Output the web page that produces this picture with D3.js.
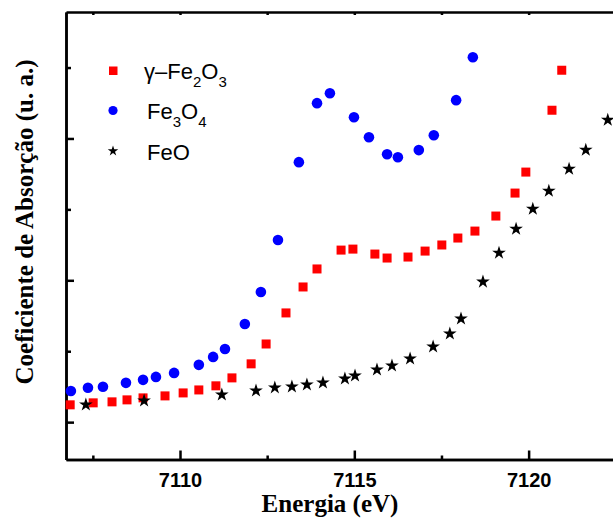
<!DOCTYPE html>
<html>
<head>
<meta charset="utf-8">
<script src="https://cdn.jsdelivr.net/npm/d3@7"></script>
<style>
  body { margin: 0; background: #fff; }
  svg { display: block; }
  .axis path, .axis line { stroke: #000; stroke-width: 2.5; }
  .axis text { font-family: Arial, "Liberation Sans", sans-serif; font-weight: bold; font-size: 20px; fill: #000; }
  .title { font-family: "Times New Roman", "Liberation Serif", serif; font-weight: bold; font-size: 25px; }
  .leg { font-family: Arial, "Liberation Sans", sans-serif; font-size: 22px; }
</style>
</head>
<body>
<script>
// gamma-Fe2O3 (red squares)
var fe2o3E = [7106.85, 7107.51, 7108.05, 7108.48, 7108.94, 7109.57, 7110.09, 7110.54, 7111.03, 7111.49,
              7112.04, 7112.47, 7113.04, 7113.53, 7113.93, 7114.62, 7114.96, 7115.59, 7115.94, 7116.54,
              7117.03, 7117.51, 7117.97, 7118.46, 7119.06, 7119.61, 7119.92, 7120.67, 7120.95];
var fe2o3A = [0.122, 0.136, 0.143, 0.157, 0.171, 0.185, 0.206, 0.227, 0.256, 0.312,
              0.411, 0.551, 0.770, 0.953, 1.080, 1.213, 1.220, 1.185, 1.157, 1.164,
              1.206, 1.249, 1.298, 1.347, 1.453, 1.615, 1.763, 2.199, 2.481];

// Fe3O4 (blue circles)
var fe3o4E = [7106.87, 7107.36, 7107.79, 7108.45, 7108.94, 7109.31, 7109.83, 7110.54, 7110.95, 7111.29,
              7111.86, 7112.32, 7112.81, 7113.41, 7113.93, 7114.30, 7114.99, 7115.42, 7115.94, 7116.25,
              7116.85, 7117.28, 7117.92, 7118.40];
var fe3o4A = [0.220, 0.242, 0.249, 0.277, 0.298, 0.319, 0.347, 0.404, 0.460, 0.516,
              0.692, 0.918, 1.284, 1.833, 2.249, 2.319, 2.150, 2.009, 1.889, 1.868,
              1.918, 2.023, 2.270, 2.573];

// FeO (black stars)
var feoE = [7107.30, 7108.97, 7111.20, 7112.18, 7112.72, 7113.21, 7113.64, 7114.10, 7114.73, 7115.02,
            7115.65, 7116.08, 7116.60, 7117.26, 7117.74, 7118.06, 7118.69, 7119.15, 7119.64, 7120.12,
            7120.58, 7121.16, 7121.64, 7122.27];
var feoA = [0.129, 0.157, 0.199, 0.227, 0.249, 0.256, 0.270, 0.284, 0.312, 0.333,
            0.375, 0.404, 0.453, 0.537, 0.629, 0.735, 0.995, 1.199, 1.368, 1.509,
            1.636, 1.791, 1.925, 2.136];

var xMajor = [7110, 7115, 7120];
var xMinor = [7107.5, 7112.5, 7117.5];
var yMajor = [0, 1, 2];
var yMinor = [0.5, 1.5, 2.5];

var W = 613, H = 518;
var pLeft = 66, pRight = 613, pTop = 12, pBottom = 459.5;

var svg = d3.select("body").append("svg").attr("width", W).attr("height", H);

var x = d3.scaleLinear().domain([7106.73, 7122.42]).range([pLeft, pRight]);
var y = d3.scaleLinear().domain([-0.2634, 2.8916]).range([pBottom, pTop]);

function zip(a, b) { return a.map(function(v, i) { return [v, b[i]]; }); }

// axes (ticks point inward)
svg.append("g").attr("class", "axis")
    .attr("transform", "translate(0," + pBottom + ")")
    .call(d3.axisBottom(x).tickValues(xMajor).tickSize(-9).tickSizeOuter(0).tickPadding(13).tickFormat(d3.format("d")));
svg.append("g").attr("class", "axis")
    .attr("transform", "translate(0," + pBottom + ")")
    .call(d3.axisBottom(x).tickValues(xMinor).tickSize(-4).tickSizeOuter(0).tickFormat(""));
svg.append("g").attr("class", "axis")
    .attr("transform", "translate(0," + pTop + ")")
    .call(d3.axisTop(x).tickValues(xMajor.concat(xMinor)).tickSize(-3).tickSizeOuter(0).tickFormat(""));
svg.append("g").attr("class", "axis")
    .attr("transform", "translate(" + pLeft + ",0)")
    .call(d3.axisLeft(y).tickValues(yMajor).tickSize(-8).tickSizeOuter(0).tickFormat(""));
svg.append("g").attr("class", "axis")
    .attr("transform", "translate(" + pLeft + ",0)")
    .call(d3.axisLeft(y).tickValues(yMinor).tickSize(-5).tickSizeOuter(0).tickFormat(""));
svg.selectAll(".axis path").attr("stroke-width", 3);

// data
var plot = svg.append("g");
plot.selectAll("rect.fe2o3").data(zip(fe2o3E, fe2o3A)).enter().append("rect")
    .attr("x", function(d) { return x(d[0]) - 4.5; })
    .attr("y", function(d) { return y(d[1]) - 4.5; })
    .attr("width", 9).attr("height", 9)
    .attr("fill", "#ff0000");
plot.selectAll("circle.fe3o4").data(zip(fe3o4E, fe3o4A)).enter().append("circle")
    .attr("cx", function(d) { return x(d[0]); })
    .attr("cy", function(d) { return y(d[1]); })
    .attr("r", 5.3)
    .attr("fill", "#0000ff");
var star = d3.symbol().type(d3.symbolStar).size(58);
plot.selectAll("path.feo").data(zip(feoE, feoA)).enter().append("path")
    .attr("d", star)
    .attr("transform", function(d) { return "translate(" + x(d[0]) + "," + (y(d[1]) + 0.8) + ")"; })
    .attr("fill", "#000");

// legend
var leg = svg.append("g");
leg.append("rect").attr("x", 109).attr("y", 66.5).attr("width", 8.5).attr("height", 8.5).attr("fill", "#ff0000");
leg.append("circle").attr("cx", 113).attr("cy", 110.5).attr("r", 4.6).attr("fill", "#0000ff");
leg.append("path").attr("d", d3.symbol().type(d3.symbolStar).size(34))
    .attr("transform", "translate(113,151)").attr("fill", "#000");

function legText(xp, yp, parts) {
  var t = leg.append("text").attr("class", "leg").attr("x", xp).attr("y", yp);
  parts.forEach(function(p) {
    var s = t.append("tspan").text(p[0]);
    if (p[1]) s.attr("font-size", "15px").attr("dy", 8);
    else if (p[2]) s.attr("dy", -8);
  });
}
legText(144, 79, [["γ–Fe"], ["2", true], ["O", false, true], ["3", true]]);
legText(147, 119, [["Fe"], ["3", true], ["O", false, true], ["4", true]]);
legText(147, 160, [["FeO"]]);

// axis titles
svg.append("text").attr("class", "title")
    .attr("x", 330).attr("y", 512).attr("text-anchor", "middle")
    .text("Energia (eV)");
svg.append("text").attr("class", "title")
    .attr("transform", "translate(33,222) rotate(-90)")
    .attr("text-anchor", "middle")
    .text("Coeficiente de Absorção (u. a.)");
</script>
</body>
</html>
